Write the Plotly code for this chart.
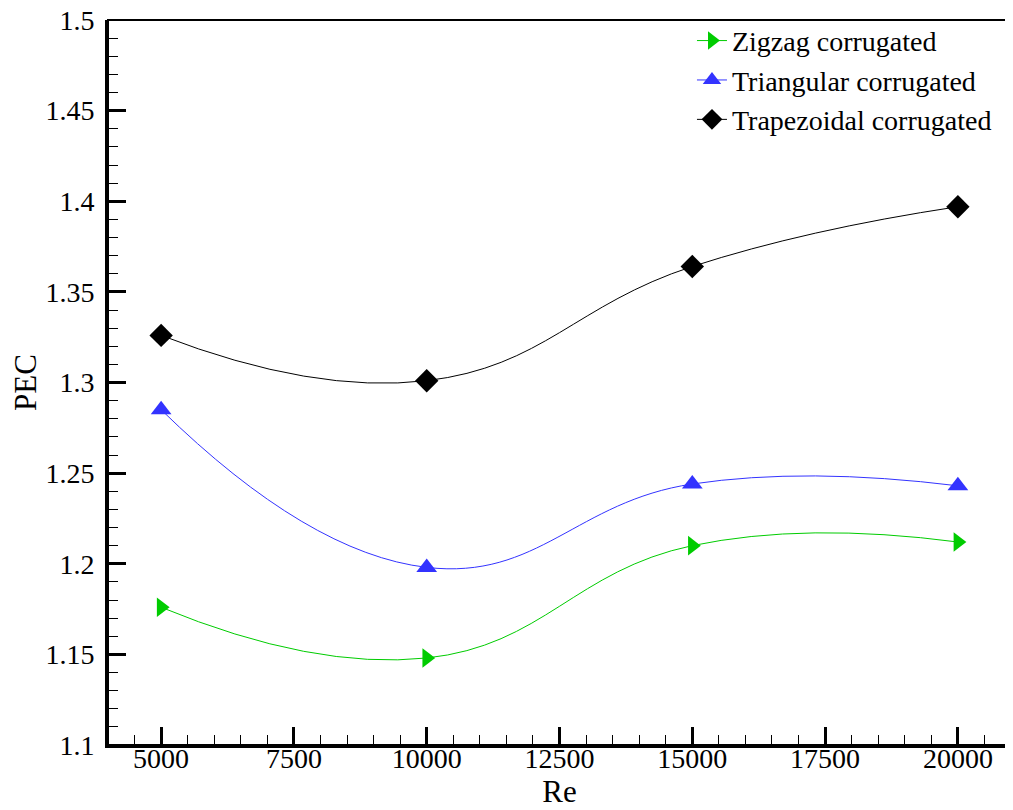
import plotly.graph_objects as go

re_vals = [5000, 10000, 15000, 20000]
zigzag = [1.176, 1.148, 1.210, 1.212]
triangular = [1.285, 1.198, 1.244, 1.243]
trapezoidal = [1.326, 1.301, 1.364, 1.397]

series = [
    ("Zigzag corrugated", zigzag, "#00CC00", "triangle-right", 17),
    ("Triangular corrugated", triangular, "#3333FF", "triangle-up", 18),
    ("Trapezoidal corrugated", trapezoidal, "#000000", "diamond", 18),
]

FONT = "Liberation Serif"

fig = go.Figure()
for name, vals, color, sym, size in series:
    fig.add_trace(go.Scatter(
        x=re_vals, y=vals, name=name, mode="lines+markers",
        line=dict(color=color, width=1, shape="spline", smoothing=1.3),
        marker=dict(symbol=sym, size=size, color=color, line=dict(width=0)),
    ))

fig.update_layout(
    width=1005, height=802,
    margin=dict(l=100, r=2, t=12, b=65, autoexpand=False),
    plot_bgcolor="white", paper_bgcolor="white",
    font=dict(family=FONT, size=28, color="black"),
    showlegend=True,
    legend=dict(x=0.6467, y=1.0057, xanchor="left", yanchor="top",
                font=dict(family=FONT, size=28, color="black"), bgcolor="rgba(0,0,0,0)",
                borderwidth=0, tracegroupgap=0),
    xaxis=dict(
        range=[4000, 21000], tickvals=[5000, 7500, 10000, 12500, 15000, 17500, 20000],
        tickformat="d",
        ticks="inside", ticklen=18, tickwidth=3, tickcolor="black",
        minor=dict(ticks="inside", ticklen=10, tickwidth=1, tickcolor="black", dtick=500, tick0=0),
        showline=True, linewidth=3, linecolor="black", showgrid=False, zeroline=False,
        title=dict(text="Re", font=dict(family=FONT, size=31, color="black"), standoff=8),
        tickfont=dict(family=FONT, size=28, color="black"),
        ticklabelstandoff=-14,
        ticklabeloverflow="allow",
        automargin=False,
    ),
    yaxis=dict(
        range=[1.1, 1.5], dtick=0.05, tick0=1.1,
        ticks="inside", ticklen=18, tickwidth=3, tickcolor="black",
        minor=dict(ticks="inside", ticklen=10, tickwidth=1, tickcolor="black", dtick=0.01),
        showline=True, linewidth=3, linecolor="black", showgrid=False, zeroline=False,
        title=dict(text="PEC", font=dict(family=FONT, size=31, color="black"), standoff=14),
        tickfont=dict(family=FONT, size=28, color="black"),
        ticklabelstandoff=5,
        ticklabeloverflow="allow",
        automargin=False,
    ),
)
fig.add_shape(type="rect", xref="paper", yref="paper", x0=0, y0=0, x1=1, y1=1,
              line=dict(color="black", width=2), layer="above")

fig.write_html("out.html")
